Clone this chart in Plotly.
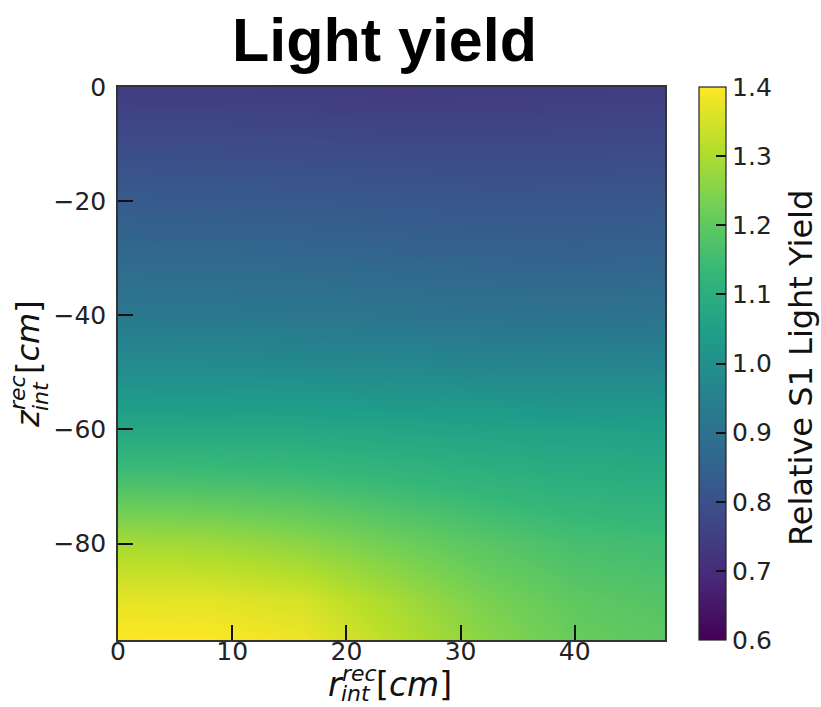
import plotly.graph_objects as go

# Radial bin centres (cm) and depth bin centres (cm)
r_cm = [0, 8, 16, 24, 32, 40, 47.9]
z_cm = [0, -10, -20, -30, -40, -50, -60, -70, -80, -90, -96.9]

# Relative S1 light yield, one row per depth, one column per radius
ly_z0 = [0.745, 0.745, 0.740, 0.735, 0.738, 0.742, 0.745]
ly_z10 = [0.785, 0.784, 0.782, 0.778, 0.776, 0.778, 0.780]
ly_z20 = [0.830, 0.828, 0.825, 0.820, 0.815, 0.815, 0.818]
ly_z30 = [0.872, 0.870, 0.866, 0.860, 0.855, 0.853, 0.856]
ly_z40 = [0.922, 0.920, 0.917, 0.910, 0.902, 0.900, 0.902]
ly_z50 = [0.992, 0.992, 0.990, 0.984, 0.977, 0.974, 0.977]
ly_z60 = [1.075, 1.077, 1.075, 1.068, 1.060, 1.054, 1.052]
ly_z70 = [1.175, 1.170, 1.160, 1.142, 1.122, 1.107, 1.100]
ly_z80 = [1.292, 1.285, 1.262, 1.225, 1.190, 1.162, 1.152]
ly_z90 = [1.372, 1.370, 1.352, 1.295, 1.238, 1.198, 1.182]
ly_z97 = [1.400, 1.398, 1.382, 1.318, 1.258, 1.212, 1.196]

light_yield = [ly_z0, ly_z10, ly_z20, ly_z30, ly_z40, ly_z50,
               ly_z60, ly_z70, ly_z80, ly_z90, ly_z97]

x_ticks = [0, 10, 20, 30, 40]
y_ticks = [0, -20, -40, -60, -80]
y_tick_text = ["0", "\u221220", "\u221240", "\u221260", "\u221280"]
cbar_ticks = [0.6, 0.7, 0.8, 0.9, 1.0, 1.1, 1.2, 1.3, 1.4]
cbar_tick_text = ["0.6", "0.7", "0.8", "0.9", "1.0", "1.1", "1.2", "1.3", "1.4"]

W, H = 821, 707
L, R, T, B = 118, 665, 87, 640  # plot-area edges in pixels
PW, PH = R - L, B - T

def px(xp):
    return (xp - L) / PW

def py(yp):
    return (B - yp) / PH

FONT = "DejaVu Sans"
TICK_FONT = dict(family=FONT, size=25, color="#222")

fig = go.Figure(
    go.Heatmap(
        x=r_cm,
        y=z_cm,
        z=light_yield,
        colorscale="Viridis",
        zmin=0.6,
        zmax=1.4,
        zsmooth="best",
        colorbar=dict(
            x=px(699), xanchor="left", xpad=0,
            y=0.5, yanchor="middle", ypad=0,
            len=1, lenmode="fraction",
            thickness=27,
            outlinewidth=1.2, outlinecolor="#222",
            ticks="inside", ticklen=10, tickwidth=2, tickcolor="#111",
            tickvals=cbar_ticks, ticktext=cbar_tick_text,
            tickfont=TICK_FONT,
        ),
    )
)

axis_common = dict(
    showline=True, mirror=True, linecolor="#333", linewidth=1.5,
    ticks="inside", ticklen=15, tickwidth=2, tickcolor="#111",
    showgrid=False, zeroline=False,
    tickfont=TICK_FONT,
)

fig.update_xaxes(range=[0, 47.9], tickvals=x_ticks, ticklabelstandoff=-12, **axis_common)
fig.update_yaxes(range=[-96.9, 0], tickvals=y_ticks, ticktext=y_tick_text,
                 ticklabelstandoff=5, **axis_common)

annotations = []

def label(text, x, y, size, angle=0):
    annotations.append(dict(
        text=text, x=px(x), y=py(y), xref="paper", yref="paper",
        xanchor="center", yanchor="middle", showarrow=False, textangle=angle,
        borderpad=0,
        font=dict(family=FONT, size=size, color="#111"),
    ))

# x-axis label: r with stacked super/subscripts
label("<i>r</i>", 336, 684, 33)
label("<i>rec</i>", 359, 673, 22)
label("<i>int</i>", 356, 693, 22)
label("[<i>cm</i>]", 414, 684, 33)

# y-axis label: z with stacked super/subscripts, rotated
label("<i>z</i>", 28, 419, 32, -90)
label("<i>rec</i>", 17, 393, 22, -90)
label("<i>int</i>", 40, 396, 22, -90)
label("[<i>cm</i>]", 28, 337, 32, -90)

# colour bar title
label("Relative S1 Light Yield", 801, 368, 32, -90)

fig.update_layout(
    width=W, height=H,
    margin=dict(l=L, r=W - R, t=T, b=H - B),
    paper_bgcolor="white", plot_bgcolor="white",
    title=dict(
        text="<b>Light yield</b>",
        x=384.5 / W, xref="container", xanchor="center",
        y=1 - 40 / H, yref="container", yanchor="middle",
        font=dict(family="Liberation Sans", size=61, color="black"),
    ),
    annotations=annotations,
)

fig.write_html("out.html")
